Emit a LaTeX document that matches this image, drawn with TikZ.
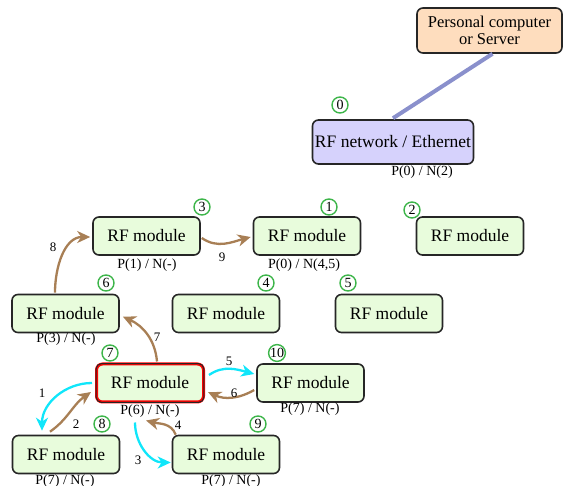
\documentclass[tikz,border=0pt]{standalone}
\usepackage{fontspec}
\setmainfont{Liberation Serif}
\usetikzlibrary{arrows.meta,calc}
\definecolor{modfill}{HTML}{E8FCDC}
\definecolor{netfill}{HTML}{D6D2FC}
\definecolor{pcfill}{HTML}{FEDDBE}
\definecolor{ringgreen}{HTML}{3DB54A}
\definecolor{brownarr}{HTML}{A87F55}
\definecolor{cyanarr}{HTML}{10E6FA}
\definecolor{linkblue}{HTML}{8A90CC}
\tikzset{
  module/.style={draw=black!85, line width=1.6pt, rounded corners=6pt, fill=modfill,
    minimum width=107pt, minimum height=38pt, inner sep=0pt,
    font=\fontsize{17.5}{20}\selectfont},
  plabel/.style={font=\fontsize{14}{16}\selectfont, inner sep=0pt},
  ring/.style={draw=ringgreen, line width=1.4pt, circle, inner sep=0.4pt, minimum size=16pt,
    font=\fontsize{14}{15}\selectfont},
  elabel/.style={font=\fontsize{13}{14}\selectfont, inner sep=0pt},
  brw/.style={draw=brownarr, line width=2.3pt, -{Stealth[length=13pt,width=12pt,inset=4pt]}},
  cyn/.style={draw=cyanarr, line width=2.3pt, -{Stealth[length=13pt,width=12pt,inset=4pt]}},
}
\begin{document}
\begin{tikzpicture}[x=1pt,y=-1pt]
\useasboundingbox (0,0) rectangle (563,486);
% top nodes
\node[draw=black!85, line width=1.6pt, rounded corners=6pt, fill=pcfill, minimum width=145pt,
  minimum height=45pt, align=center, inner sep=0pt, font=\fontsize{16.5}{17}\selectfont]
  (pc) at (489.5,30.5) {Personal computer\\or Server};
\node[draw=black!85, line width=1.6pt, rounded corners=6pt, fill=netfill, minimum width=161pt,
  minimum height=44pt, inner sep=0pt, font=\fontsize{17.5}{20}\selectfont]
  (net) at (393,142) {RF network / Ethernet};
\draw[linkblue, line width=4pt] ($(pc.south)+(3,0)$) -- ($(net.north)+(0,-1)$);
\node[ring] (r0) at (340,105) {0};
\node[plabel] (lnet) at (422,172) {P(0) / N(2)};
% modules
\node[module] (m3) at (146.5,236) {RF module};
\node[module] (m1) at (307,236) {RF module};
\node[module] (m2) at (470,236) {RF module};
\node[module] (m6) at (65.5,313.5) {RF module};
\node[module] (m4) at (226,313.5) {RF module};
\node[module] (m5) at (389,313.5) {RF module};
\node[module, draw=red, line width=3pt] (m7) at (150,383) {RF module};
\draw[black!85, line width=1pt, rounded corners=5pt]
  ($(m7.south west)+(1.2,-1.2)$) rectangle ($(m7.north east)+(-1.2,1.2)$);
\node[module] (m10) at (310.5,383) {RF module};
\node[module] (m8) at (66,454.5) {RF module};
\node[module] (m9) at (226,454.5) {RF module};
% rings
\node[ring] (r3) at (202,207) {3};
\node[ring] (r1) at (329,207) {1};
\node[ring] (r2) at (412,210) {2};
\node[ring] (r6) at (106,283) {6};
\node[ring] (r4) at (266,283) {4};
\node[ring] (r5) at (348,283) {5};
\node[ring] (r7) at (110,353) {7};
\node[ring, inner sep=0pt] (r10) at (277,353) {10};
\node[ring] (r8) at (102,424) {8};
\node[ring] (r9) at (258,424) {9};
% P/N labels
\node[plabel] (l3) at (147,265) {P(1) / N(-)};
\node[plabel] (l1) at (304,265) {P(0) / N(4,5)};
\node[plabel] (l6) at (66,339) {P(3) / N(-)};
\node[plabel] (l7) at (150,411) {P(6) / N(-)};
\node[plabel] (l10) at (310,409) {P(7) / N(-)};
\node[plabel] (l8) at (65,481) {P(7) / N(-)};
\node[plabel] (l9) at (231,481) {P(7) / N(-)};
% arrows
\draw[brw] ($(m6.north)+(-10.5,-1)$) to[out=90,in=180] ($(m3.west)+(-2,1)$);
\node[elabel] (e8) at (53,247) {8};
\draw[brw] ($(m3.east)+(1,2)$) to[out=-35,in=195] ($(m1.west)+(-2,1)$);
\node[elabel] (e9) at (222,257) {9};
\draw[brw] ($(m7.north)+(7,-1)$) to[out=95,in=-25] ($(m6.east)+(3,3)$);
\node[elabel] (e7) at (157,337) {7};
\draw[cyn] ($(m7.west)+(-3,0)$) to[out=180,in=90] ($(m8.north)+(-24,-4)$);
\node[elabel] (e1) at (42,393) {1};
\draw[brw] ($(m8.north)+(-16,-3)$) to[out=35,in=215] ($(m7.west)+(-4,9)$);
\node[elabel] (e2) at (76,424) {2};
\draw[cyn] ($(m7.south)+(-15,19)$) to[out=-90,in=180] ($(m9.west)+(-1,8)$);
\node[elabel] (e3) at (138,460) {3};
\draw[brw] ($(m9.north west)+(4,0)$) to[out=110,in=-15] ($(m7.south)+(-4,17)$);
\node[elabel] (e4) at (178,425) {4};
\draw[cyn] ($(m7.east)+(4,-8)$) to[out=35,in=165] ($(m10.west)+(-2,-9)$);
\node[elabel] (e5) at (229,361) {5};
\draw[brw] ($(m10.west)+(-2,7)$) to[out=-150,in=-25] ($(m7.east)+(3,9)$);
\node[elabel] (e6) at (234,393) {6};
\end{tikzpicture}
\end{document}
